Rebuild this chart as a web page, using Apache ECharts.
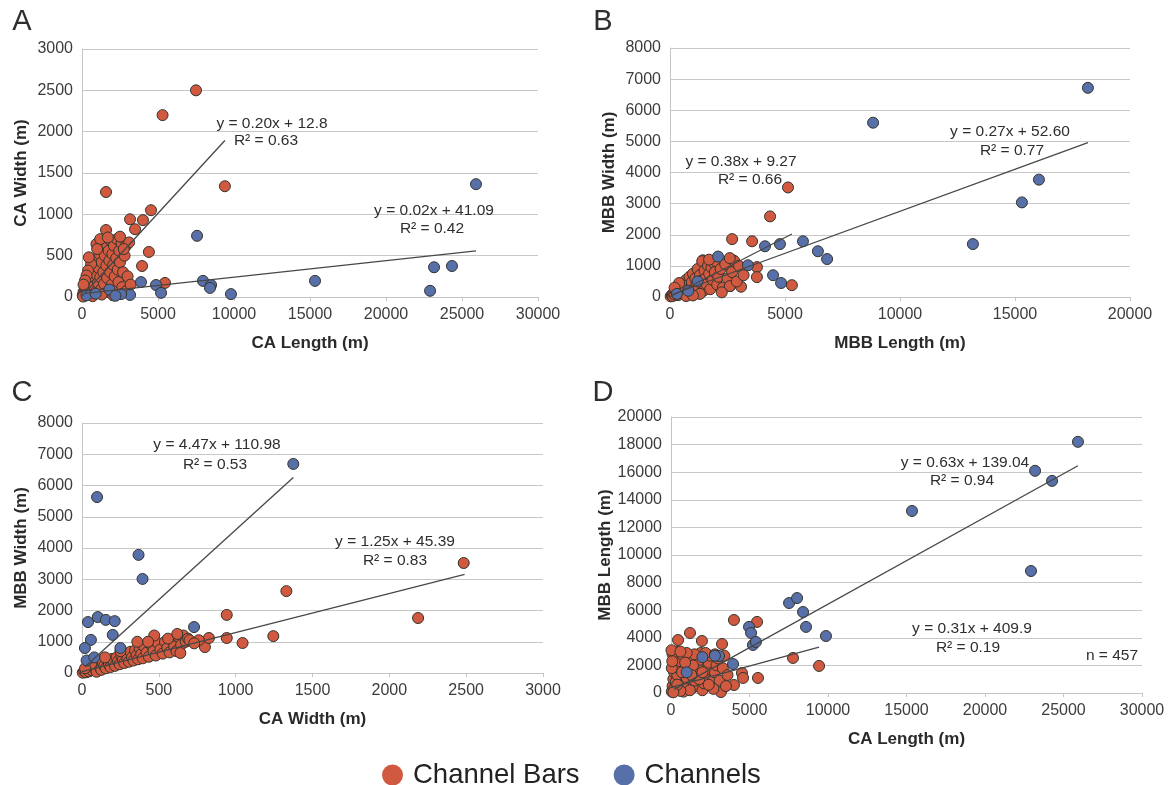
<!DOCTYPE html>
<html>
<head>
<meta charset="utf-8">
<script src="https://cdn.jsdelivr.net/npm/echarts@6/dist/echarts.min.js"></script>
<style>
  html, body { margin: 0; background: #fff; }
  #chart { width: 1171px; height: 785px; }
</style>
</head>
<body>
<div id="chart"></div>
<script>
// ---- panel A: CA length vs CA width ----
const barsA = [
  [7500, 2500], [5300, 2200], [1580, 1270], [9400, 1340], [4540, 1050], [3160, 940], [4010, 930],
  [3490, 820], [1580, 810], [4400, 545], [3950, 375], [5460, 170],
  [50, 20], [100, 60], [150, 30], [200, 100], [250, 50], [300, 150], [350, 80], [400, 200], [450, 120],
  [500, 40], [550, 250], [600, 180], [650, 90], [700, 300], [750, 220], [800, 130], [850, 380], [900, 60],
  [950, 270], [1000, 450], [1050, 170], [1100, 350], [1150, 520], [1200, 240], [1250, 90], [1300, 420],
  [1350, 600], [1400, 300], [1450, 160], [1500, 500], [1550, 650], [1600, 380], [1650, 230], [1700, 60],
  [1750, 560], [1800, 440], [1850, 300], [1900, 680], [1950, 150], [2000, 520], [2050, 390], [2100, 620],
  [2150, 250], [2200, 80], [2250, 470], [2300, 700], [2350, 330], [2400, 180], [2450, 560], [2500, 420],
  [2600, 650], [2700, 300], [2800, 500], [2900, 620], [3000, 250], [3100, 660], [2650, 120], [2050, 20],
  [1300, 30], [600, 400], [400, 320], [300, 260], [200, 200], [100, 150], [80, 5], [700, 10], [950, 640],
  [1200, 700], [450, 480], [1700, 720], [2900, 70], [3200, 150], [2500, 730], [2750, 580], [1000, 580]
];
const channelsA = [
  [7570, 740], [3880, 180], [4870, 145], [5200, 50], [3160, 25], [2570, 35], [7960, 195], [8490, 145],
  [8420, 110], [9800, 35], [15330, 195], [22900, 75], [23160, 360], [24340, 375], [25920, 1365],
  [300, 20], [900, 40], [1800, 90], [2200, 15]
];
const trendBarsA = [[0, 12.8], [9400, 1893]];
const trendChannelsA = [[200, 45], [25920, 559]];

// ---- panel B: MBB length vs MBB width ----
const barsB = [
  [5130, 3520], [4350, 2590], [2700, 1860], [3570, 1790], [3780, 960], [3780, 640], [5300, 380],
  [3090, 330], [2610, 350], [1430, 1180], [2040, 1120], [2740, 1180],
  [30, 20], [80, 60], [120, 30], [150, 120], [200, 80], [250, 200], [300, 150], [350, 60], [400, 280],
  [450, 180], [500, 350], [550, 100], [600, 450], [650, 250], [700, 550], [750, 380], [800, 150],
  [850, 650], [900, 300], [950, 480], [1000, 750], [1050, 220], [1100, 600], [1150, 400], [1200, 900],
  [1250, 300], [1300, 700], [1350, 520], [1400, 1150], [1450, 200], [1500, 850], [1550, 600], [1600, 400],
  [1650, 1000], [1700, 750], [1750, 250], [1800, 950], [1850, 550], [1900, 1100], [1950, 800], [2000, 1150],
  [2050, 400], [2100, 650], [2200, 900], [2300, 300], [2400, 1050], [2500, 600], [2600, 350], [2700, 800],
  [2800, 1150], [2900, 500], [3000, 1000], [3200, 700], [2250, 150], [1300, 100], [700, 30], [400, 450],
  [200, 300], [1000, 50], [2600, 1250], [1700, 1200]
];
const channelsB = [
  [8830, 5600], [18170, 6720], [16040, 3770], [15300, 3040], [13170, 1700], [6830, 1220], [6430, 1470],
  [5780, 1790], [4780, 1700], [4130, 1630], [4480, 700], [4830, 450], [3390, 1020], [2090, 1300],
  [300, 100], [800, 200], [1200, 500]
];
const trendBarsB = [[0, 9.27], [5300, 2023]];
const trendChannelsB = [[100, 80], [18170, 4958]];

// ---- panel C: CA width vs MBB width ----
const barsC = [
  [2484, 3520], [2187, 1760], [1330, 2620], [942, 1860], [1045, 960], [942, 1120], [800, 830],
  [826, 1120], [1245, 1180],
  [5, 10], [15, 60], [25, 20], [35, 120], [45, 50], [55, 180], [65, 90], [75, 250], [85, 130], [95, 40],
  [105, 300], [115, 190], [125, 100], [135, 350], [145, 230], [155, 150], [165, 400], [175, 280],
  [185, 190], [195, 450], [205, 330], [215, 230], [225, 500], [235, 380], [245, 280], [255, 560],
  [265, 420], [275, 320], [285, 620], [295, 460], [305, 360], [315, 680], [325, 500], [335, 400],
  [345, 720], [355, 560], [365, 440], [375, 790], [385, 600], [395, 470], [405, 850], [420, 650],
  [435, 520], [450, 900], [465, 700], [480, 560], [495, 950], [510, 750], [525, 620], [540, 1000],
  [555, 800], [570, 660], [585, 1050], [600, 850], [615, 700], [630, 1150], [645, 900], [660, 1200],
  [675, 1000], [690, 1100], [470, 1200], [430, 1000], [360, 1000], [560, 1100], [620, 1250], [700, 1050],
  [760, 1050], [730, 950], [250, 700], [150, 500], [60, 300], [20, 150], [640, 640]
];
const channelsC = [
  [98, 5630], [368, 3780], [394, 3010], [1375, 6690], [729, 1470], [39, 1630], [103, 1790], [155, 1700],
  [213, 1660], [200, 1220], [58, 1060], [19, 800], [250, 800], [30, 400], [80, 500]
];
const trendBarsC = [[0, 45.39], [2490, 3158]];
const trendChannelsC = [[20, 200], [1375, 6257]];

// ---- panel D: CA length vs MBB length ----
const barsD = [
  [4010, 5290], [5480, 5150], [1210, 4350], [450, 3840], [1970, 3770], [3250, 3550], [7770, 2540],
  [9430, 1960], [4520, 1450], [4590, 1090], [5540, 1090], [4010, 580], [3180, 70],
  [50, 100], [100, 500], [150, 1000], [200, 1500], [250, 2000], [300, 2500], [350, 3000], [100, 2800],
  [200, 300], [300, 800], [400, 1300], [500, 1800], [600, 2300], [700, 2800], [800, 100], [900, 600],
  [1000, 1100], [1100, 1600], [1200, 2100], [1300, 2600], [1400, 400], [1500, 900], [1600, 1400],
  [1700, 1900], [1800, 2400], [1900, 2900], [2000, 200], [2100, 700], [2200, 1200], [2300, 1700],
  [2400, 2200], [2500, 2700], [2600, 500], [2700, 1000], [2800, 1500], [2900, 2000], [3000, 2500],
  [3100, 900], [3300, 1800], [2700, 300], [1200, 200], [600, 150], [50, 1800], [80, 2300], [30, 3100],
  [1500, 2800], [1000, 2900], [2200, 2900], [2800, 2800], [3400, 2700], [3600, 1300], [3500, 500],
  [700, 1500], [1400, 2000], [1800, 1000], [2400, 600], [400, 600], [900, 2200], [150, 50], [2000, 1500],
  [1300, 1300], [600, 3000]
];
const channelsD = [
  [25920, 18200], [23190, 16100], [24270, 15370], [15350, 13190], [22930, 8840], [7520, 6520],
  [8030, 6880], [8410, 5870], [8600, 4790], [9870, 4130], [4970, 4790], [5100, 4350], [5220, 3480],
  [5410, 3700], [3950, 2100], [3060, 2680], [2000, 2600], [2800, 2700], [1000, 1500]
];
const trendBarsD = [[0, 409.9], [9430, 3333]];
const trendChannelsD = [[200, 265], [25920, 16469]];

const RED = '#d0593f';
const BLUE = '#5870a9';
const FONT = 'Liberation Sans, Arial, sans-serif';

const panels = [
  { grid: { left: 82, top: 49, width: 456, height: 248 },
    x: { max: 30000, interval: 5000, name: 'CA Length (m)' },
    y: { max: 3000, interval: 500, name: 'CA Width (m)' },
    bars: barsA, ch: channelsA, tb: trendBarsA, tc: trendChannelsA },
  { grid: { left: 670, top: 48, width: 460, height: 249 },
    x: { max: 20000, interval: 5000, name: 'MBB Length (m)' },
    y: { max: 8000, interval: 1000, name: 'MBB Width (m)' },
    bars: barsB, ch: channelsB, tb: trendBarsB, tc: trendChannelsB },
  { grid: { left: 82, top: 423, width: 461, height: 250 },
    x: { max: 3000, interval: 500, name: 'CA Width (m)' },
    y: { max: 8000, interval: 1000, name: 'MBB Width (m)' },
    bars: barsC, ch: channelsC, tb: trendBarsC, tc: trendChannelsC },
  { grid: { left: 671, top: 417, width: 471, height: 276 },
    x: { max: 30000, interval: 5000, name: 'CA Length (m)' },
    y: { max: 20000, interval: 2000, name: 'MBB Length (m)' },
    bars: barsD, ch: channelsD, tb: trendBarsD, tc: trendChannelsD }
];

const grids = [], xAxes = [], yAxes = [], series = [];
panels.forEach((p, i) => {
  grids.push(p.grid);
  xAxes.push({
    type: 'value', gridIndex: i, min: 0, max: p.x.max, interval: p.x.interval,
    name: p.x.name, nameLocation: 'middle', nameGap: 38,
    nameTextStyle: { fontFamily: FONT, fontWeight: 'bold', fontSize: 17, color: '#2a2a2a' },
    axisLine: { lineStyle: { color: '#c4c4c4' } },
    axisTick: { show: true, length: 4, lineStyle: { color: '#c4c4c4' } },
    axisLabel: { fontFamily: FONT, fontSize: 16, color: '#3c3c3c', margin: 10, formatter: v => String(v) },
    splitLine: { show: false }
  });
  yAxes.push({
    type: 'value', gridIndex: i, min: 0, max: p.y.max, interval: p.y.interval,
    name: p.y.name, nameLocation: 'middle', nameGap: 52, nameRotate: 90,
    nameTextStyle: { fontFamily: FONT, fontWeight: 'bold', fontSize: 17, color: '#2a2a2a' },
    axisLine: { show: true, lineStyle: { color: '#c4c4c4' } },
    axisTick: { show: false },
    axisLabel: { fontFamily: FONT, fontSize: 16, color: '#3c3c3c', margin: 9, formatter: v => String(v) },
    splitLine: { lineStyle: { color: '#c8c8c8', width: 1.2 } }
  });
  const dot = (name, data, color) => ({
    name, type: 'scatter', xAxisIndex: i, yAxisIndex: i, data,
    symbolSize: 11,
    itemStyle: { color, borderColor: '#34352e', borderWidth: 1, opacity: 1 },
    z: 2
  });
  series.push(dot('Channel Bars', p.bars, RED));
  series.push(dot('Channels', p.ch, BLUE));
  [p.tb, p.tc].forEach((t, k) => {
    series.push({
      name: 'trend' + i + k, type: 'line', xAxisIndex: i, yAxisIndex: i, data: t,
      showSymbol: false, silent: true, z: 5,
      lineStyle: { color: '#474747', width: 1.3 }
    });
  });
});

// equation text, panel letters
const txt = (x, y, text, size, weight) => ({
  type: 'text', x, y, z: 10,
  style: { text, fontFamily: FONT, fontSize: size || 15.5, fontWeight: weight || 'normal',
           fill: '#2e2e2e', textAlign: 'center', textVerticalAlign: 'middle' }
});
const graphic = [
  txt(22, 22, 'A', 29), txt(603, 22, 'B', 29), txt(22, 393, 'C', 29), txt(603, 393, 'D', 29),
  txt(272, 124, 'y = 0.20x + 12.8'), txt(266, 141, 'R² = 0.63'),
  txt(434, 211, 'y = 0.02x + 41.09'), txt(432, 229, 'R² = 0.42'),
  txt(741, 162, 'y = 0.38x + 9.27'), txt(750, 180, 'R² = 0.66'),
  txt(1010, 132, 'y = 0.27x + 52.60'), txt(1012, 151, 'R² = 0.77'),
  txt(217, 445, 'y = 4.47x + 110.98'), txt(215, 465, 'R² = 0.53'),
  txt(395, 542, 'y = 1.25x + 45.39'), txt(395, 561, 'R² = 0.83'),
  txt(965, 463, 'y = 0.63x + 139.04'), txt(962, 481, 'R² = 0.94'),
  txt(972, 629, 'y = 0.31x + 409.9'), txt(968, 648, 'R² = 0.19'),
  txt(1112, 656, 'n = 457')
];

const chart = echarts.init(document.getElementById('chart'));
chart.setOption({
  backgroundColor: '#fff',
  animation: false,
  grid: grids,
  xAxis: xAxes,
  yAxis: yAxes,
  series,
  graphic,
  legend: {
    data: ['Channel Bars', 'Channels'],
    left: 377, top: 756,
    icon: 'circle', itemWidth: 21, itemHeight: 21, itemGap: 34,
    itemStyle: { borderWidth: 0 },
    textStyle: { fontFamily: FONT, fontSize: 27.5, color: '#222', padding: [0, 0, 0, 5] }
  }
});
</script>
</body>
</html>
